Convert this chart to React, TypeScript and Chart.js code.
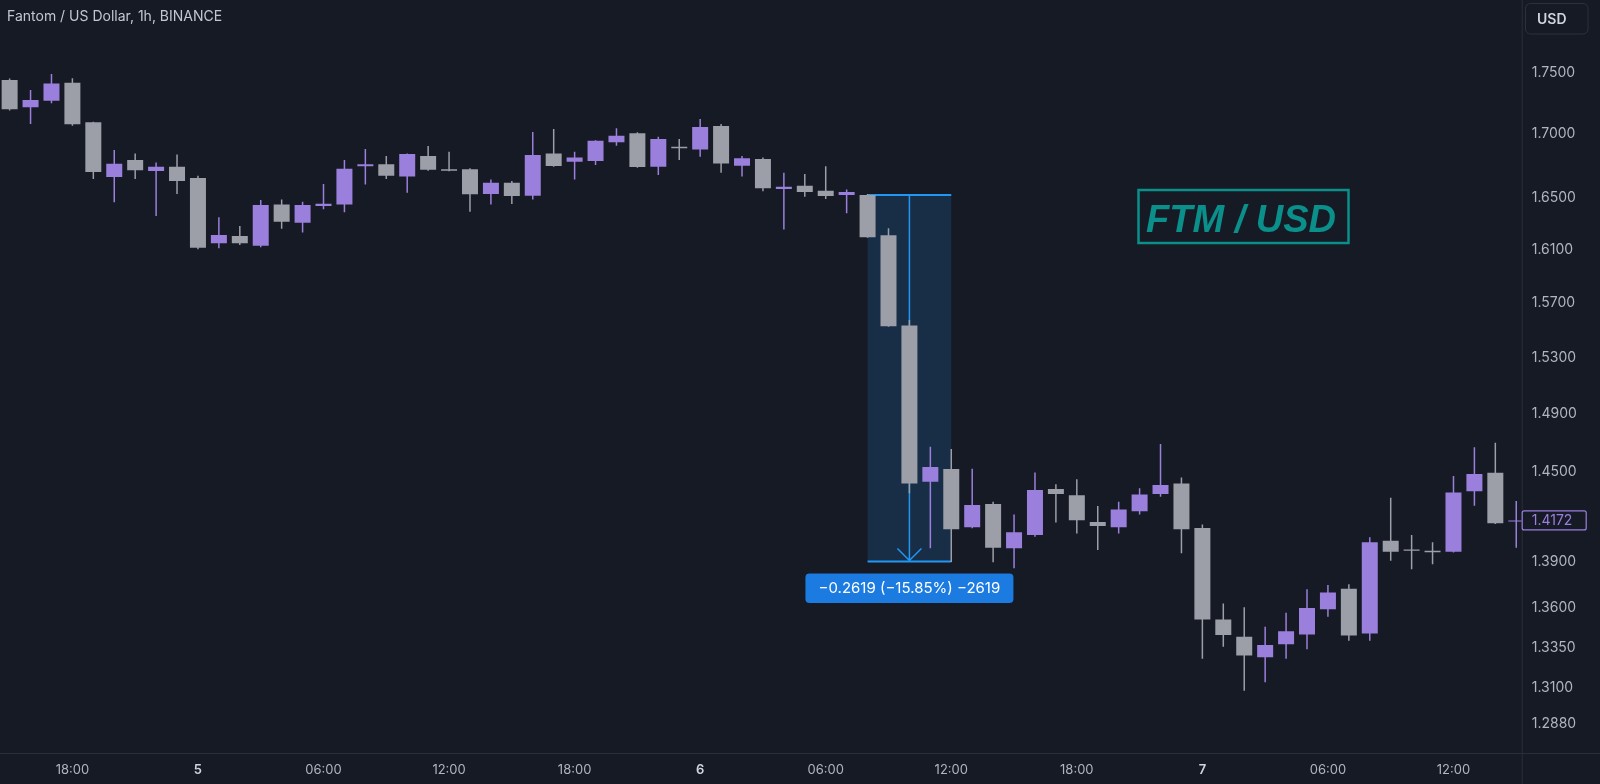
import React, { useEffect, useRef } from "react";
import { Chart, registerables } from "chart.js";

Chart.register(...registerables);

// ---- data ----
const opens = [
  1.7438, 1.7216, 1.7269, 1.7416, 1.7094, 1.6659, 1.6793, 1.6707, 1.6741, 1.6652,
  1.6148, 1.6203, 1.613, 1.6446, 1.6305, 1.6434, 1.6446, 1.6744, 1.676, 1.6664,
  1.6825, 1.672, 1.672, 1.6527, 1.6615, 1.6513, 1.6846, 1.678, 1.6785, 1.6934,
  1.7006, 1.6741, 1.6899, 1.6878, 1.7065, 1.6748, 1.6801, 1.6566, 1.6592, 1.6553,
  1.652, 1.652, 1.6209, 1.5535, 1.4432, 1.4519, 1.4127, 1.4282, 1.3987, 1.4075,
  1.4383, 1.4342, 1.4162, 1.4127, 1.4234, 1.4349, 1.4421, 1.4121, 1.3526, 1.3417,
  1.3288, 1.3369, 1.3431, 1.3591, 1.3723, 1.3437, 1.4037, 1.398, 1.3971, 1.3965,
  1.4369, 1.4494, 1.4165,
];
const highs = [
  1.745, 1.7356, 1.7488, 1.7452, 1.7099, 1.6873, 1.6846, 1.6775, 1.6838, 1.667,
  1.6347, 1.628, 1.648, 1.6485, 1.6467, 1.6605, 1.6793, 1.6881, 1.6825, 1.6845,
  1.6905, 1.6859, 1.6728, 1.6641, 1.6628, 1.7017, 1.7041, 1.6859, 1.695, 1.7047,
  1.7014, 1.6979, 1.696, 1.7121, 1.7081, 1.6825, 1.6814, 1.6694, 1.6683, 1.6744,
  1.6563, 1.6527, 1.6262, 1.5575, 1.4673, 1.4657, 1.4522, 1.4298, 1.4212, 1.4496,
  1.4415, 1.4449, 1.4268, 1.4298, 1.4388, 1.4691, 1.4462, 1.4145, 1.3629, 1.3604,
  1.348, 1.3569, 1.3721, 1.3747, 1.3753, 1.406, 1.4324, 1.4075, 1.4027, 1.4471,
  1.4669, 1.47, 1.4303,
];
const lows = [
  1.7189, 1.7081, 1.7248, 1.7067, 1.6644, 1.6463, 1.6644, 1.6357, 1.6527, 1.6102,
  1.611, 1.6135, 1.6117, 1.6259, 1.6231, 1.6408, 1.6385, 1.6602, 1.6644, 1.6537,
  1.6709, 1.6706, 1.639, 1.6446, 1.6449, 1.6485, 1.6741, 1.6641, 1.6754, 1.6907,
  1.6733, 1.6675, 1.6793, 1.6819, 1.6694, 1.6664, 1.6548, 1.6254, 1.6506, 1.6488,
  1.6378, 1.619, 1.5525, 1.4355, 1.3987, 1.3897, 1.412, 1.3895, 1.3856, 1.4064,
  1.4159, 1.4086, 1.3976, 1.4086, 1.4212, 1.4331, 1.3954, 1.3279, 1.3354, 1.308,
  1.3132, 1.3279, 1.3338, 1.3544, 1.3391, 1.3391, 1.3905, 1.385, 1.3883, 1.396,
  1.427, 1.4149, 1.3991,
];
const closes = [
  1.72, 1.7275, 1.741, 1.7078, 1.6699, 1.6764, 1.6713, 1.6741, 1.6628, 1.6114,
  1.6211, 1.6148, 1.6441, 1.6313, 1.6441, 1.6451, 1.6725, 1.676, 1.667, 1.6841,
  1.6717, 1.6709, 1.6525, 1.6615, 1.6511, 1.6833, 1.6746, 1.6814, 1.6947, 1.6987,
  1.6738, 1.696, 1.6886, 1.7057, 1.6767, 1.6807, 1.6571, 1.6584, 1.6543, 1.6511,
  1.6543, 1.6194, 1.553, 1.4421, 1.4533, 1.4113, 1.4275, 1.3991, 1.4093, 1.4376,
  1.4349, 1.4174, 1.4135, 1.4246, 1.4347, 1.441, 1.4113, 1.3526, 1.3428, 1.3299,
  1.3365, 1.3451, 1.3599, 1.37, 1.3424, 1.4027, 1.3965, 1.3971, 1.3961, 1.436,
  1.4485, 1.4154, 1.4172,
];

const yTickValues = [1.75, 1.7, 1.65, 1.61, 1.57, 1.53, 1.49, 1.45, 1.39, 1.36, 1.335, 1.31, 1.288];
const xTickIndex = [3, 9, 15, 21, 27, 33, 39, 45, 51, 57, 63, 69];
const xTickLabels = ["18:00", "5", "06:00", "12:00", "18:00", "6", "06:00", "12:00", "18:00", "7", "06:00", "12:00"];
const dayLabels = ["5", "6", "7"];

const lastPrice = 1.4172;
const measureFromIndex = 41;
const measureToIndex = 45;
const measureArrowIndex = 43;
const measureStart = 1.652;
const measureEnd = 1.3901;
const measureLabel = "\u22120.2619 (\u221215.85%) \u22122619";

const titleText = "Fantom / US Dollar, 1h, BINANCE";
const currencyText = "USD";
const annotationText = "FTM / USD";

// ---- styles ----
const BG = "#161a25";
const UP = "#9b7fdd";
const DOWN = "#9c9ea8";
const LINE = "#2a2e39";
const TEXT = "#b2b5be";
const BLUE = "#2196f3";
const TEAL = "#0a8f8a";
const FONT = "Inter, 'Noto Sans', sans-serif";

function rr(ctx: CanvasRenderingContext2D, x: number, y: number, w: number, h: number, r: number) {
  ctx.beginPath();
  ctx.moveTo(x + r, y);
  ctx.lineTo(x + w - r, y);
  ctx.arcTo(x + w, y, x + w, y + r, r);
  ctx.lineTo(x + w, y + h - r);
  ctx.arcTo(x + w, y + h, x + w - r, y + h, r);
  ctx.lineTo(x + r, y + h);
  ctx.arcTo(x, y + h, x, y + h - r, r);
  ctx.lineTo(x, y + r);
  ctx.arcTo(x, y, x + r, y, r);
  ctx.closePath();
}

const decorPlugin = {
  id: "decor",
  beforeDraw(chart: any) {
    const ctx = chart.ctx as CanvasRenderingContext2D;
    ctx.save();
    ctx.fillStyle = BG;
    ctx.fillRect(0, 0, chart.width, chart.height);
    ctx.restore();
  },
  beforeDatasetsDraw(chart: any) {
    const ctx = chart.ctx as CanvasRenderingContext2D;
    const xs = chart.scales.x;
    const ys = chart.scales.y;
    const x1 = xs.getPixelForValue(measureFromIndex);
    const x2 = xs.getPixelForValue(measureToIndex);
    const xm = xs.getPixelForValue(measureArrowIndex);
    const y1 = ys.getPixelForValue(measureStart);
    const y2 = ys.getPixelForValue(measureEnd);
    ctx.save();
    ctx.fillStyle = "rgba(33,150,243,0.17)";
    ctx.fillRect(x1, y1, x2 - x1, y2 - y1);
    ctx.strokeStyle = BLUE;
    ctx.lineWidth = 2;
    ctx.beginPath();
    ctx.moveTo(x1, y1);
    ctx.lineTo(x2, y1);
    ctx.moveTo(x1, y2);
    ctx.lineTo(x2, y2);
    ctx.stroke();
    ctx.lineWidth = 1.5;
    ctx.beginPath();
    ctx.moveTo(xm, y1);
    ctx.lineTo(xm, y2 - 1);
    ctx.moveTo(xm - 12, y2 - 13);
    ctx.lineTo(xm, y2 - 1);
    ctx.lineTo(xm + 12, y2 - 13);
    ctx.stroke();
    ctx.restore();
  },
  afterDraw(chart: any) {
    const ctx = chart.ctx as CanvasRenderingContext2D;
    const xs = chart.scales.x;
    const ys = chart.scales.y;
    const area = chart.chartArea;
    ctx.save();
    // separators
    ctx.strokeStyle = LINE;
    ctx.lineWidth = 1;
    ctx.beginPath();
    ctx.moveTo(area.right + 0.5, 0);
    ctx.lineTo(area.right + 0.5, chart.height);
    ctx.moveTo(0, area.bottom + 0.5);
    ctx.lineTo(chart.width, area.bottom + 0.5);
    ctx.stroke();

    // title
    ctx.fillStyle = "#c3c6ce";
    ctx.font = `14px ${FONT}`;
    ctx.textAlign = "left";
    ctx.textBaseline = "middle";
    ctx.fillText(titleText, 7, 17);

    // currency button
    rr(ctx, 1525.5, 3.5, 62.5, 30.5, 5);
    ctx.fillStyle = BG;
    ctx.fill();
    ctx.strokeStyle = "#2d313c";
    ctx.stroke();
    ctx.fillStyle = "#d1d4dc";
    ctx.font = `600 14px ${FONT}`;
    ctx.fillText(currencyText, 1537, 19.5);

    // last price label
    const yp = ys.getPixelForValue(lastPrice);
    rr(ctx, area.right + 0.5, yp - 9.5, 64, 19, 2);
    ctx.fillStyle = BG;
    ctx.fill();
    ctx.strokeStyle = UP;
    ctx.lineWidth = 1.2;
    ctx.stroke();
    ctx.fillStyle = UP;
    ctx.font = `14px ${FONT}`;
    ctx.fillText(lastPrice.toFixed(4), area.right + 10, yp + 0.5);

    // measurement label
    const xm = xs.getPixelForValue(measureArrowIndex);
    const y2 = ys.getPixelForValue(measureEnd);
    rr(ctx, xm - 104, y2 + 12, 208, 29.5, 4);
    ctx.fillStyle = "#1b7be0";
    ctx.fill();
    ctx.fillStyle = "#ffffff";
    ctx.font = `15px ${FONT}`;
    ctx.textAlign = "center";
    ctx.fillText(measureLabel, xm, y2 + 27.5);

    // FTM / USD annotation box
    ctx.strokeStyle = TEAL;
    ctx.lineWidth = 2.5;
    ctx.strokeRect(1138.5, 190, 210, 53);
    ctx.fillStyle = TEAL;
    ctx.font = `italic bold 38px 'Liberation Sans', Arial, sans-serif`;
    ctx.textAlign = "left";
    ctx.textBaseline = "alphabetic";
    ctx.fillText(annotationText, 1146, 231.5);
    ctx.restore();
  },
};

export default function App() {
  const ref = useRef<HTMLCanvasElement | null>(null);

  useEffect(() => {
    document.body.style.margin = "0";
    document.body.style.background = BG;
    const canvas = ref.current;
    if (!canvas) return;
    const idx = opens.map((_, i) => i);
    const colors = idx.map((i) => (closes[i] >= opens[i] ? UP : DOWN));

    const chart = new Chart(canvas, {
      type: "bar",
      data: {
        datasets: [
          {
            label: "body",
            data: idx.map((i) => ({ x: i, y: [opens[i], closes[i]] })) as any,
            backgroundColor: colors,
            barThickness: 16,
            grouped: false,
            order: 0,
            borderWidth: 0,
            inflateAmount: 0,
          } as any,
          {
            label: "wick",
            data: idx.map((i) => ({ x: i, y: [lows[i], highs[i]] })) as any,
            backgroundColor: colors,
            barThickness: 1.5,
            grouped: false,
            order: 1,
            borderWidth: 0,
            inflateAmount: 0,
          } as any,
        ],
      },
      options: {
        responsive: false,
        animation: false,
        devicePixelRatio: 1,
        layout: { padding: 0 },
        plugins: {
          legend: { display: false },
          tooltip: { enabled: false },
          title: { display: false },
        },
        scales: {
          x: {
            type: "linear",
            position: "bottom",
            min: -0.46,
            max: 72.26,
            bounds: "data",
            offset: false,
            grid: { display: false, drawTicks: false },
            border: { display: false },
            afterBuildTicks: (axis: any) => {
              axis.ticks = xTickIndex.map((v) => ({ value: v }));
            },
            afterFit: (axis: any) => {
              axis.height = 31;
              axis.paddingLeft = 0;
              axis.paddingRight = 0;
            },
            ticks: {
              autoSkip: false,
              maxRotation: 0,
              minRotation: 0,
              padding: 9,
              color: (c: any) => {
                const k = xTickIndex.indexOf(c.tick?.value);
                return k >= 0 && dayLabels.includes(xTickLabels[k]) ? "#d1d4dc" : TEXT;
              },
              font: (c: any) => {
                const k = xTickIndex.indexOf(c.tick?.value);
                const bold = k >= 0 && dayLabels.includes(xTickLabels[k]);
                return { family: FONT, size: 13, weight: bold ? "600" : "normal" } as any;
              },
              callback: (v: any) => {
                const k = xTickIndex.indexOf(Number(v));
                return k >= 0 ? xTickLabels[k] : "";
              },
            },
          },
          y: {
            type: "logarithmic",
            position: "right",
            min: 1.2702,
            max: 1.8108,
            bounds: "data",
            grid: { display: false, drawTicks: false },
            border: { display: false },
            afterBuildTicks: (axis: any) => {
              axis.ticks = yTickValues.map((v) => ({ value: v }));
            },
            afterFit: (axis: any) => {
              axis.width = 78.3;
              axis.paddingTop = 0;
              axis.paddingBottom = 0;
            },
            ticks: {
              autoSkip: false,
              padding: 10,
              color: TEXT,
              font: { family: FONT, size: 14 },
              callback: (v: any) => Number(v).toFixed(4),
            },
          },
        },
      } as any,
      plugins: [decorPlugin],
    });

    return () => chart.destroy();
  }, []);

  return (
    <div style={{ position: "fixed", left: 0, top: 0, width: 1600, height: 784, background: BG }}>
      <canvas ref={ref} width={1600} height={784} style={{ display: "block", width: 1600, height: 784 }} />
    </div>
  );
}
